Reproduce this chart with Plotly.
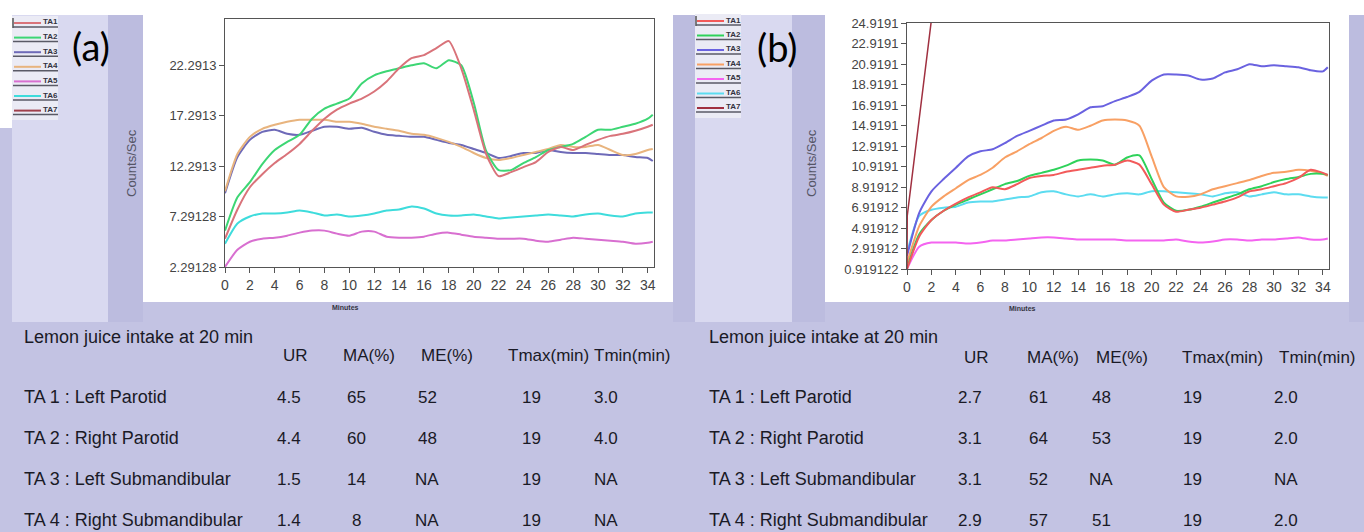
import plotly.graph_objects as go

W, H = 1364, 532

# ---------------- data ----------------
minutes = [0, 1, 2, 3, 4, 5, 6, 7, 8, 9, 10, 11, 12, 13, 14, 15, 16, 17, 18, 19,
           20, 21, 22, 23, 24, 25, 26, 27, 28, 29, 30, 31, 32, 33, 34, 34.4]
series_names = ["TA1", "TA2", "TA3", "TA4", "TA5", "TA6", "TA7"]

# panel (a)
a_ta1 = [5.1, 8.0, 10.2, 11.5, 12.6, 13.5, 14.5, 15.8, 17.0, 17.9, 18.5, 19.0, 19.7, 20.7, 22.0, 23.0, 23.3, 24.0,
         24.7, 22.0, 17.9, 13.5, 11.3, 11.7, 12.2, 12.7, 13.7, 14.2, 13.9, 14.4, 14.9, 15.3, 15.5, 15.8, 16.2, 16.4]
a_ta2 = [5.9, 9.2, 10.7, 12.5, 13.9, 14.7, 15.4, 17.0, 18.0, 18.5, 19.0, 20.5, 21.3, 21.7, 22.0, 22.3, 22.5, 22.0,
         22.8, 22.3, 18.6, 13.8, 11.9, 11.9, 12.6, 13.2, 13.9, 14.2, 14.5, 15.2, 15.9, 15.9, 16.2, 16.5, 17.0, 17.4]
a_ta3 = [9.6, 13.2, 14.9, 15.7, 15.9, 15.5, 15.4, 15.8, 16.2, 16.2, 16.0, 16.1, 15.7, 15.4, 15.3, 15.2, 15.2, 14.9,
         14.6, 14.4, 14.0, 13.6, 13.1, 13.3, 13.6, 13.6, 13.9, 13.7, 13.6, 13.6, 13.5, 13.4, 13.4, 13.2, 13.1, 12.8]
a_ta4 = [9.8, 13.5, 15.2, 16.0, 16.4, 16.7, 16.9, 16.9, 16.9, 16.7, 16.7, 16.5, 16.2, 16.0, 15.8, 15.5, 15.4, 15.1,
         14.7, 14.2, 13.6, 13.1, 12.9, 13.1, 13.4, 13.7, 14.0, 14.4, 14.2, 14.2, 14.4, 13.9, 13.4, 13.5, 13.9, 14.0]
a_ta5 = [2.3, 4.0, 4.8, 5.1, 5.2, 5.4, 5.7, 5.9, 5.9, 5.6, 5.4, 5.8, 5.8, 5.3, 5.2, 5.2, 5.3, 5.6,
         5.7, 5.5, 5.3, 5.2, 5.1, 5.1, 5.1, 4.9, 4.8, 5.0, 5.2, 5.1, 5.0, 4.9, 4.8, 4.6, 4.7, 4.8]
a_ta6 = [4.6, 6.6, 7.3, 7.6, 7.6, 7.7, 7.9, 7.7, 7.4, 7.5, 7.3, 7.4, 7.6, 7.9, 8.0, 8.3, 8.1, 7.6,
         7.4, 7.4, 7.5, 7.3, 7.1, 7.2, 7.3, 7.4, 7.5, 7.4, 7.3, 7.5, 7.6, 7.4, 7.3, 7.6, 7.7, 7.7]

# panel (b)
b_ta1 = [0.92, 4.1, 5.7, 6.6, 7.3, 7.9, 8.4, 8.9, 8.7, 9.2, 9.8, 10.0, 10.1, 10.4, 10.6, 10.8, 11.0, 11.1,
         11.5, 11.1, 9.2, 7.2, 6.5, 6.7, 6.9, 7.2, 7.5, 7.9, 8.5, 8.7, 9.0, 9.3, 9.8, 10.6, 10.3, 10.1]
b_ta2 = [1.0, 4.3, 5.7, 6.6, 7.2, 7.7, 8.2, 8.7, 9.2, 9.5, 10.0, 10.3, 10.6, 11.0, 11.5, 11.6, 11.5, 11.1,
         11.8, 12.0, 9.7, 7.4, 6.6, 6.7, 7.0, 7.4, 7.8, 8.2, 8.7, 9.0, 9.4, 9.7, 9.9, 10.2, 10.2, 10.1]
b_ta3 = [2.2, 6.4, 8.5, 9.7, 10.8, 11.9, 12.4, 12.6, 13.2, 13.9, 14.4, 14.9, 15.4, 15.5, 16.0, 16.7, 16.8, 17.3,
         17.7, 18.2, 19.3, 19.9, 19.9, 19.8, 19.4, 19.5, 20.1, 20.4, 20.9, 20.7, 20.8, 20.7, 20.6, 20.3, 20.2, 20.6]
b_ta4 = [1.5, 5.1, 7.0, 8.0, 8.8, 9.6, 10.1, 10.8, 11.8, 12.4, 13.1, 13.7, 14.4, 14.8, 14.5, 14.9, 15.4, 15.5,
         15.4, 14.9, 11.9, 8.9, 8.0, 7.96, 8.2, 8.7, 9.0, 9.3, 9.6, 10.0, 10.3, 10.4, 10.6, 10.5, 10.2, 10.0]
b_ta5 = [0.92, 3.1, 3.5, 3.5, 3.5, 3.4, 3.5, 3.7, 3.7, 3.8, 3.9, 4.0, 4.0, 3.9, 3.8, 3.8, 3.8, 3.8,
         3.7, 3.7, 3.7, 3.7, 3.8, 3.6, 3.5, 3.6, 3.8, 3.8, 3.7, 3.8, 3.8, 3.9, 4.0, 3.8, 3.8, 3.9]
b_ta6 = [2.5, 6.1, 6.7, 6.9, 7.0, 7.4, 7.5, 7.5, 7.7, 7.9, 8.0, 8.4, 8.5, 8.2, 8.0, 8.2, 8.0, 8.2,
         8.3, 8.2, 8.5, 8.5, 8.4, 8.3, 8.2, 8.0, 8.3, 8.4, 8.0, 8.2, 8.4, 8.2, 8.2, 8.0, 7.9, 7.9]
b_ta7_minutes = [0, 0.02, 2.2]
b_ta7 = [0.92, 6.1, 27.2]

ticks_a_vals = [2.29128, 7.29128, 12.2913, 17.2913, 22.2913]
ticks_a_text = ["2.29128", "7.29128", "12.2913", "17.2913", "22.2913"]
ticks_b_vals = [0.919122, 2.91912, 4.91912, 6.91912, 8.91912, 10.9191, 12.9191,
                14.9191, 16.9191, 18.9191, 20.9191, 22.9191, 24.9191]
ticks_b_text = ["0.919122", "2.91912", "4.91912", "6.91912", "8.91912", "10.9191", "12.9191",
                "14.9191", "16.9191", "18.9191", "20.9191", "22.9191", "24.9191"]
x_ticks = [0, 2, 4, 6, 8, 10, 12, 14, 16, 18, 20, 22, 24, 26, 28, 30, 32, 34]

table_title = "Lemon juice intake at 20 min"
table_headers = ["UR", "MA(%)", "ME(%)", "Tmax(min)", "Tmin(min)"]
table_rows = ["TA 1 : Left Parotid", "TA 2 : Right Parotid",
              "TA 3 : Left Submandibular", "TA 4 : Right Submandibular"]
table_a = [["4.5", "65", "52", "19", "3.0"],
           ["4.4", "60", "48", "19", "4.0"],
           ["1.5", "14", "NA", "19", "NA"],
           ["1.4", "8", "NA", "19", "NA"]]
table_b = [["2.7", "61", "48", "19", "2.0"],
           ["3.1", "64", "53", "19", "2.0"],
           ["3.1", "52", "NA", "19", "NA"],
           ["2.9", "57", "51", "19", "2.0"]]

colors_a = ["#D9737A", "#3DD674", "#6E6AB8", "#E8B47E", "#D86FD0", "#3EDCDC", "#A0404C"]
colors_b = ["#F25A5A", "#2ED25A", "#6A62E0", "#F8A064", "#F464F0", "#5CDCF0", "#A03040"]

# ---------------- helpers ----------------
def px(x):
    return x / W

def py(y):
    return 1 - y / H

fig = go.Figure()

a_series = [a_ta1, a_ta2, a_ta3, a_ta4, a_ta5, a_ta6]
for i in [5, 4, 2, 3, 1, 0]:
    fig.add_trace(go.Scatter(x=minutes, y=a_series[i], mode="lines", name=series_names[i],
                             line=dict(color=colors_a[i], width=2, shape="spline", smoothing=0.6),
                             xaxis="x", yaxis="y", showlegend=False))

b_series = [b_ta1, b_ta2, b_ta3, b_ta4, b_ta5, b_ta6]
for i in [5, 4, 2, 3, 1, 0]:
    fig.add_trace(go.Scatter(x=minutes, y=b_series[i], mode="lines", name=series_names[i],
                             line=dict(color=colors_b[i], width=2, shape="spline", smoothing=0.6),
                             xaxis="x2", yaxis="y2", showlegend=False))
fig.add_trace(go.Scatter(x=b_ta7_minutes, y=b_ta7, mode="lines", name=series_names[6],
                         line=dict(color=colors_b[6], width=1.5), xaxis="x2", yaxis="y2",
                         showlegend=False))

# ---------------- background shapes ----------------
BG = "#C3C3E3"
LIGHT = "#D9D9F0"
BAND = "#BCBCDF"
shapes = []

def rect(x0, y0, x1, y1, color):
    shapes.append(dict(type="rect", xref="paper", yref="paper", x0=px(x0), x1=px(x1),
                       y0=py(y1), y1=py(y0), fillcolor=color, layer="below", line=dict(width=0)))

def hline(x0, x1, y, color, width):
    shapes.append(dict(type="line", xref="paper", yref="paper", x0=px(x0), x1=px(x1),
                       y0=py(y), y1=py(y), line=dict(color=color, width=width), layer="above"))

rect(0, 15, W, H, BG)
rect(0, 15, 12, 128, "#FFFFFF")
rect(12, 15, 108, 322, LIGHT)
rect(108, 15, 143, 322, BAND)
rect(143, 15, 673, 302, "#FFFFFF")
rect(673, 15, 695, 322, BAND)
rect(695, 15, 792, 322, LIGHT)
rect(792, 15, 825, 322, BAND)
rect(825, 15, 1349, 302, "#FFFFFF")
rect(1349, 15, W, 322, BAND)

annotations = []

def text(x, y, s, size, color="#1A1A26", anchor="left", family="Liberation Sans, Arial, sans-serif",
         angle=0, bold=False):
    annotations.append(dict(xref="paper", yref="paper", x=px(x), y=py(y),
                            text=("<b>%s</b>" % s) if bold else s,
                            showarrow=False, xanchor=anchor, yanchor="middle", textangle=angle,
                            font=dict(size=size, color=color, family=family)))

# legends
for lx0, ly0, pitch, cols in [(12, 16, 14.6, colors_a), (695, 14, 14.5, colors_b)]:
    rect(lx0, ly0, lx0 + 46, ly0 + 104, "#EBEBF5")
    shapes.append(dict(type="line", xref="paper", yref="paper", x0=px(lx0 + 1), x1=px(lx0 + 1),
                       y0=py(ly0 + 2), y1=py(ly0 + 12), line=dict(color="#555", width=1.5)))
    for i, name in enumerate(series_names):
        yy = ly0 + 7 + pitch * i
        hline(lx0 + 2, lx0 + 29, yy, cols[i], 2)
        hline(lx0 + 1, lx0 + 46, yy + 4, "#5A5A66", 1.5)
        text(lx0 + 29, yy - 1, name, 8, color="#333340", bold=True)

# panel labels
text(91, 46, "(a)", 38, color="#000000", anchor="center", family="Lato, Liberation Sans, sans-serif")
text(777, 47, "(b)", 38, color="#000000", anchor="center", family="Lato, Liberation Sans, sans-serif")

# axis titles
text(131, 163, "Counts/Sec", 13, color="#555566", anchor="center", angle=-90)
text(811, 163, "Counts/Sec", 13, color="#555566", anchor="center", angle=-90)
text(345, 307, "Minutes", 7, color="#333340", anchor="center", bold=True)
text(1022, 308, "Minutes", 7, color="#333340", anchor="center", bold=True)

# tables
row_y = [397, 438, 479, 520]
for (tx, hdr_x, val_x, data, title_y, hdr_y) in [
        (22, [281, 341, 419, 506, 592], [289, 356, 427, 531, 606], table_a, 337, 355),
        (707, [962, 1025, 1094, 1180, 1277], [970, 1038, 1101, 1192, 1286], table_b, 337, 357)]:
    text(tx, title_y, table_title, 18)
    for hx, h in zip(hdr_x, table_headers):
        text(hx, hdr_y, h, 17)
    for ry, label, vals in zip(row_y, table_rows, data):
        text(tx, ry, label, 18)
        for vx, v in zip(val_x, vals):
            text(vx, ry, v, 17, anchor="center")

axis_common = dict(showline=True, mirror=True, linecolor="#555555", linewidth=1, ticks="outside",
                   ticklen=5, tickcolor="#555555", showgrid=False, zeroline=False,
                   tickfont=dict(family="Liberation Sans, Arial, sans-serif", color="#444444"))

fig.update_layout(
    width=W, height=H, margin=dict(l=0, r=0, t=0, b=0, pad=0, autoexpand=False),
    paper_bgcolor="#FFFFFF", plot_bgcolor="rgba(0,0,0,0)",
    shapes=shapes, annotations=annotations, showlegend=False,
    xaxis=dict(domain=[px(225), px(654)], range=[0, 34.5], anchor="y", tickvals=x_ticks,
               automargin=False, **axis_common),
    yaxis=dict(domain=[py(267), py(19)], range=[2.29128, 26.89], anchor="x",
               tickvals=ticks_a_vals, ticktext=ticks_a_text, automargin=False, **axis_common),
    xaxis2=dict(domain=[px(907), px(1329)], range=[0, 34.5], anchor="y2", tickvals=x_ticks,
                automargin=False, **axis_common),
    yaxis2=dict(domain=[py(269), py(23)], range=[0.919122, 24.9191], anchor="x2",
                tickvals=ticks_b_vals, ticktext=ticks_b_text, automargin=False, **axis_common),
)
fig.update_xaxes(tickfont_size=14)
fig.update_yaxes(tickfont_size=13)

fig.write_html("out.html", config={"displayModeBar": False, "staticPlot": True},
               post_script="document.body.style.margin='0';document.body.style.padding='0';"
                           "document.body.style.overflow='hidden';"
                           "document.documentElement.style.overflow='hidden';")
